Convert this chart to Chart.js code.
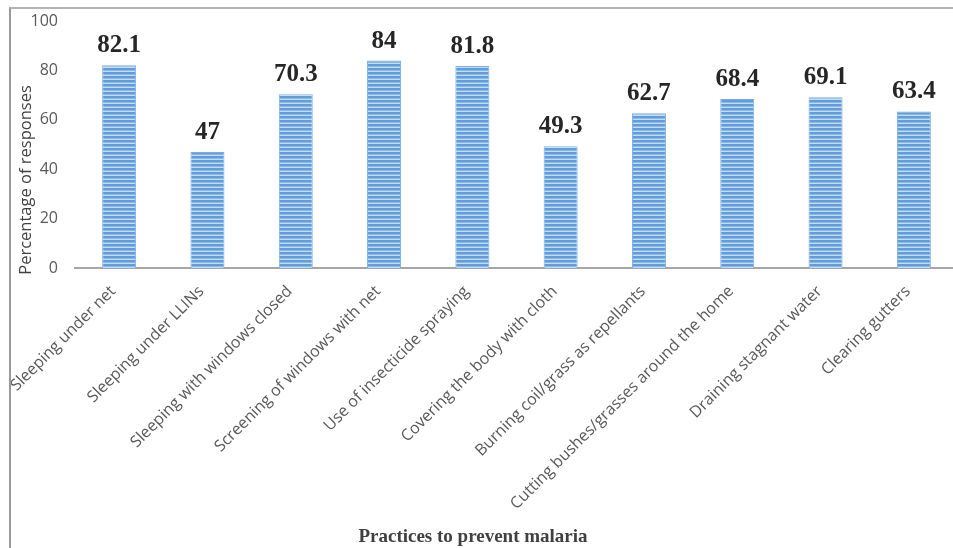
<!DOCTYPE html>
<html>
<head>
<meta charset="utf-8">
<script src="https://cdn.jsdelivr.net/npm/chart.js@4"></script>
<style>
  html, body { margin: 0; padding: 0; background: #fff; overflow: hidden; }
  #wrap { position: relative; width: 970px; height: 548px; }
  #frame { position: absolute; left: 9px; top: 7px; right: 0; bottom: -4px;
           border-top: 2px solid #b4b4b4; border-left: 2px solid #9a9a9a; pointer-events: none; }
</style>
</head>
<body>
<div id="wrap">
  <canvas id="chart" width="970" height="548"></canvas>
  <div id="frame"></div>
</div>
<script>
// Practices reported for preventing malaria (% of respondents)
const practices = [
  'Sleeping under net',
  'Sleeping under LLINs',
  'Sleeping with windows closed',
  'Screening of windows with net',
  'Use of insecticide spraying',
  'Covering the body with cloth',
  'Burning coil/grass as repellants',
  'Cutting bushes/grasses around the home',
  'Draining stagnant water',
  'Clearing gutters'
];
const responses = [82.1, 47, 70.3, 84, 81.8, 49.3, 62.7, 68.4, 69.1, 63.4];
const yTicks = [0, 20, 40, 60, 80, 100];

// Narrow horizontal stripe fill for the bars
function stripeFill() {
  const c = document.createElement('canvas');
  c.width = 4; c.height = 4;
  const g = c.getContext('2d');
  g.fillStyle = '#5f9ddb'; g.fillRect(0, 0, 4, 2);
  g.fillStyle = '#8bb8e8'; g.fillRect(0, 2, 4, 1);
  g.fillStyle = '#c4dbf3'; g.fillRect(0, 3, 4, 1);
  return g.createPattern(c, 'repeat');
}

// Bold value printed above each bar
const valueLabels = {
  id: 'valueLabels',
  afterDatasetsDraw(chart) {
    const ctx = chart.ctx;
    const meta = chart.getDatasetMeta(0);
    ctx.save();
    ctx.font = 'bold 25px "Liberation Serif", "Times New Roman", serif';
    ctx.fillStyle = '#262626';
    ctx.textAlign = 'center';
    ctx.textBaseline = 'alphabetic';
    meta.data.forEach((bar, i) => {
      ctx.fillText(String(responses[i]), bar.x, bar.y - 13);
    });
    ctx.restore();
  }
};

// Axis captions: vertical one a little below the plot middle, horizontal one left of centre
const captions = {
  id: 'captions',
  afterDraw(chart) {
    const ctx = chart.ctx;
    ctx.save();
    ctx.translate(26, 180);
    ctx.rotate(-Math.PI / 2);
    ctx.font = '16.5px "Open Sans", "Noto Sans", sans-serif';
    ctx.fillStyle = '#404040';
    ctx.textAlign = 'center';
    ctx.textBaseline = 'middle';
    ctx.fillText('Percentage of responses', 0, 0);
    ctx.restore();

    ctx.save();
    ctx.font = 'bold 19px "Liberation Serif", "Times New Roman", serif';
    ctx.fillStyle = '#404040';
    ctx.textAlign = 'center';
    ctx.textBaseline = 'middle';
    ctx.fillText('Practices to prevent malaria', 473, 537);
    ctx.restore();
  }
};

new Chart(document.getElementById('chart'), {
  type: 'bar',
  data: {
    labels: practices,
    datasets: [{
      data: responses,
      backgroundColor: stripeFill(),
      borderColor: '#7aaee2',
      borderWidth: { left: 1, right: 1, top: 1, bottom: 0 },
      barPercentage: 0.385,
      categoryPercentage: 1
    }]
  },
  options: {
    responsive: false,
    animation: false,
    devicePixelRatio: 1,
    layout: { padding: { top: 21, right: 12, bottom: 0, left: 0 } },
    plugins: { legend: { display: false }, tooltip: { enabled: false } },
    scales: {
      x: {
        grid: { display: false, drawTicks: false },
        border: { display: true, color: '#a6a6a6', width: 2 },
        ticks: {
          minRotation: 45, maxRotation: 45, autoSkip: false, padding: 14,
          labelOffset: -6,
          color: '#595959',
          font: { family: '"Open Sans", "Noto Sans", sans-serif', size: 16 }
        },
        afterFit(scale) { scale.height = 280; }
      },
      y: {
        min: 0, max: 100,
        afterBuildTicks(scale) { scale.ticks = yTicks.map(v => ({ value: v })); },
        grid: { display: false, drawTicks: false },
        border: { display: false },
        ticks: {
          padding: 17, color: '#595959',
          font: { family: '"Open Sans", "Noto Sans", sans-serif', size: 16 }
        },
        afterFit(scale) {
          scale.width = 75;
          scale.paddingTop = 0;
          scale.paddingBottom = 0;
        }
      }
    }
  },
  plugins: [valueLabels, captions]
});
</script>
</body>
</html>
